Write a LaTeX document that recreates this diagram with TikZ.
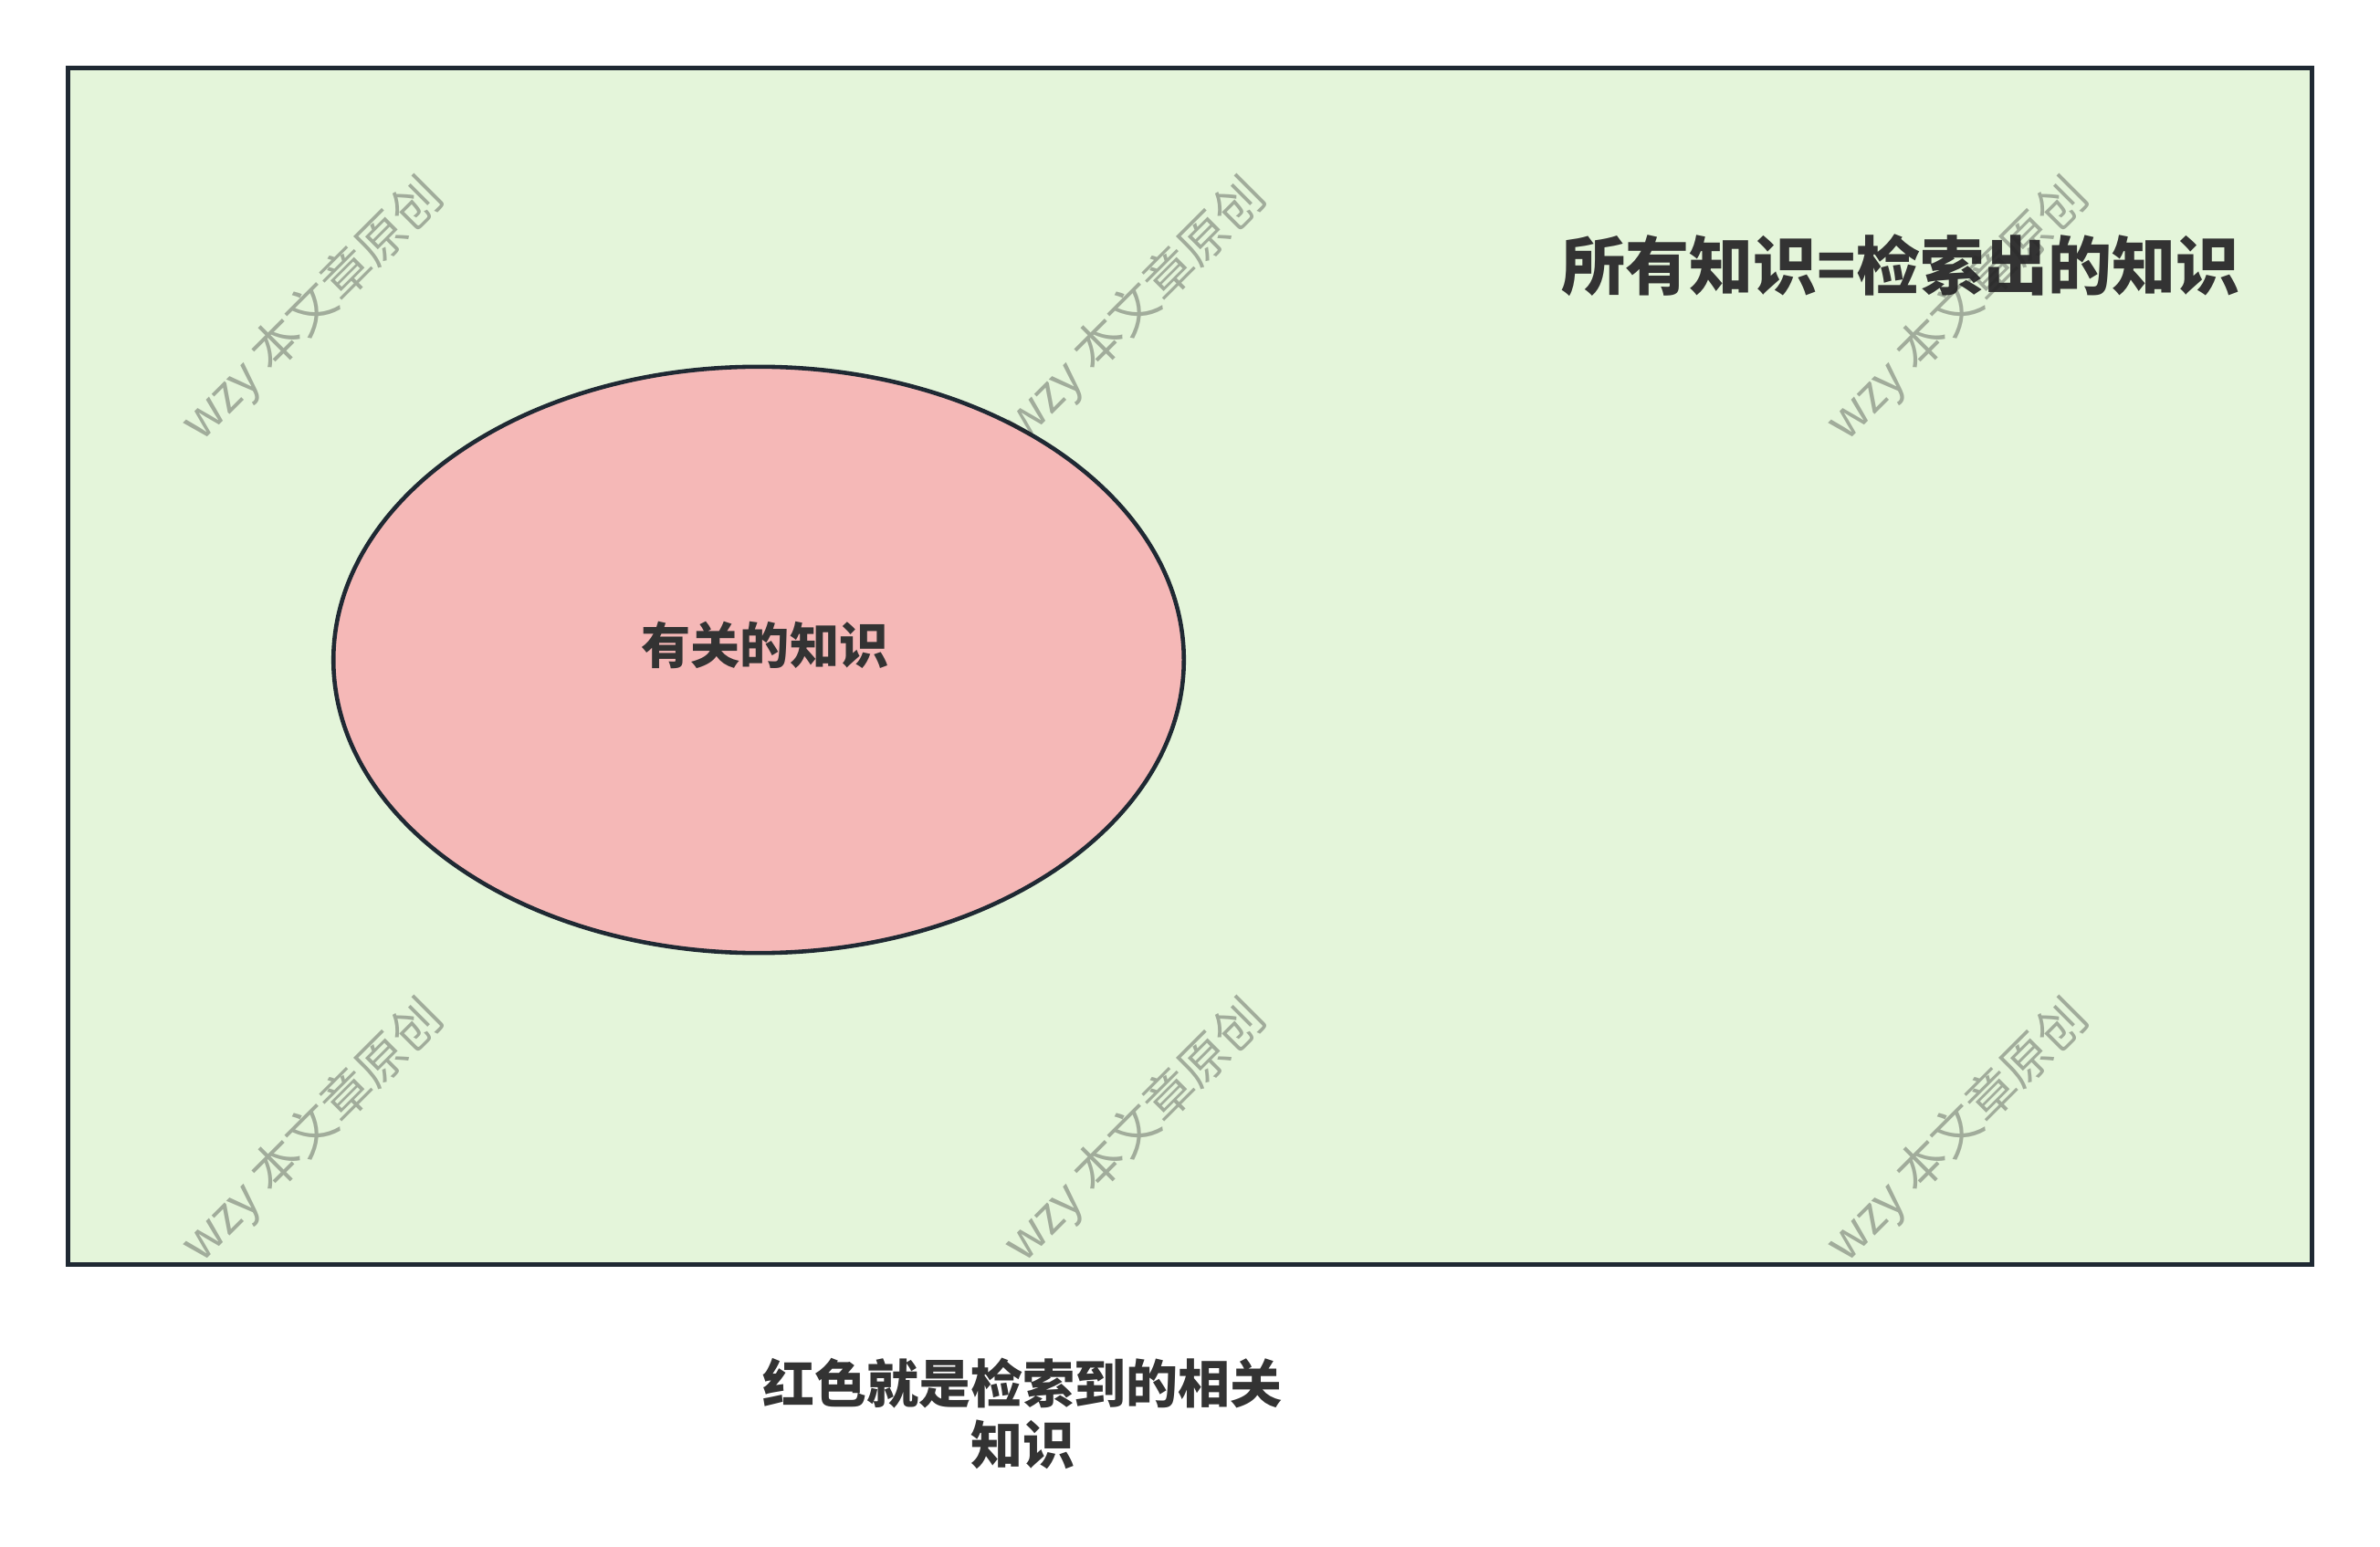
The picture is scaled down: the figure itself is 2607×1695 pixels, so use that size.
\documentclass[tikz,border=0pt]{standalone}
\usepackage{fontspec}
\newfontfamily\cjk{Noto Sans CJK SC}
\usepackage{xcolor}
\usepackage{tikz}
\usetikzlibrary{positioning,shapes.geometric}
\definecolor{SetGreen}{RGB}{228,245,218}
\definecolor{SetRed}{RGB}{245,184,183}
\definecolor{EdgeDark}{RGB}{31,41,51}
\definecolor{TextDark}{RGB}{51,51,51}

\begin{document}
\begin{tikzpicture}[x=0.01cm,y=-0.01cm]
	\tikzset{
		allset/.style={rectangle, draw=EdgeDark, line width=1.3pt, fill=SetGreen,
			minimum width=24.57cm, minimum height=13.10cm, inner sep=0pt},
		relset/.style={ellipse, draw=EdgeDark, line width=1.3pt, fill=SetRed,
			minimum width=9.31cm, minimum height=6.42cm, inner sep=0pt},
		lbl/.style={text=TextDark, inner sep=0pt, font=\cjk\bfseries\fontsize{15.4}{19}\selectfont},
		wm/.style={text=black!85, opacity=0.35, rotate=45, inner sep=0pt,
			font=\cjk\fontsize{15.4}{18}\selectfont}
	}
	\useasboundingbox (0,0) rectangle (2607,1695);
	
	% ======= Sets =======
	\node[allset] (all) at (1303.5,730) {};
	\node[relset] (rel) at (831,723) {};
	
	% ======= Labels =======
	\node[lbl, font=\cjk\bfseries\fontsize{19.9}{24}\selectfont] (title) at (2082,291) {所有知识=检索出的知识};
	\node[lbl] (rellbl) at (838,707) {有关的知识};
	\node[lbl, align=center, font=\cjk\bfseries\fontsize{16.2}{19}\selectfont] (note) at (1120,1549) {红色就是检索到的相关\\知识};
	
	% ======= Watermarks =======
	\foreach \wx in {343,1244,2145}
		\foreach \wy in {340,1240}
			\node[wm] at (\wx,\wy) {wzy 本文章原创};
\end{tikzpicture}
\end{document}
